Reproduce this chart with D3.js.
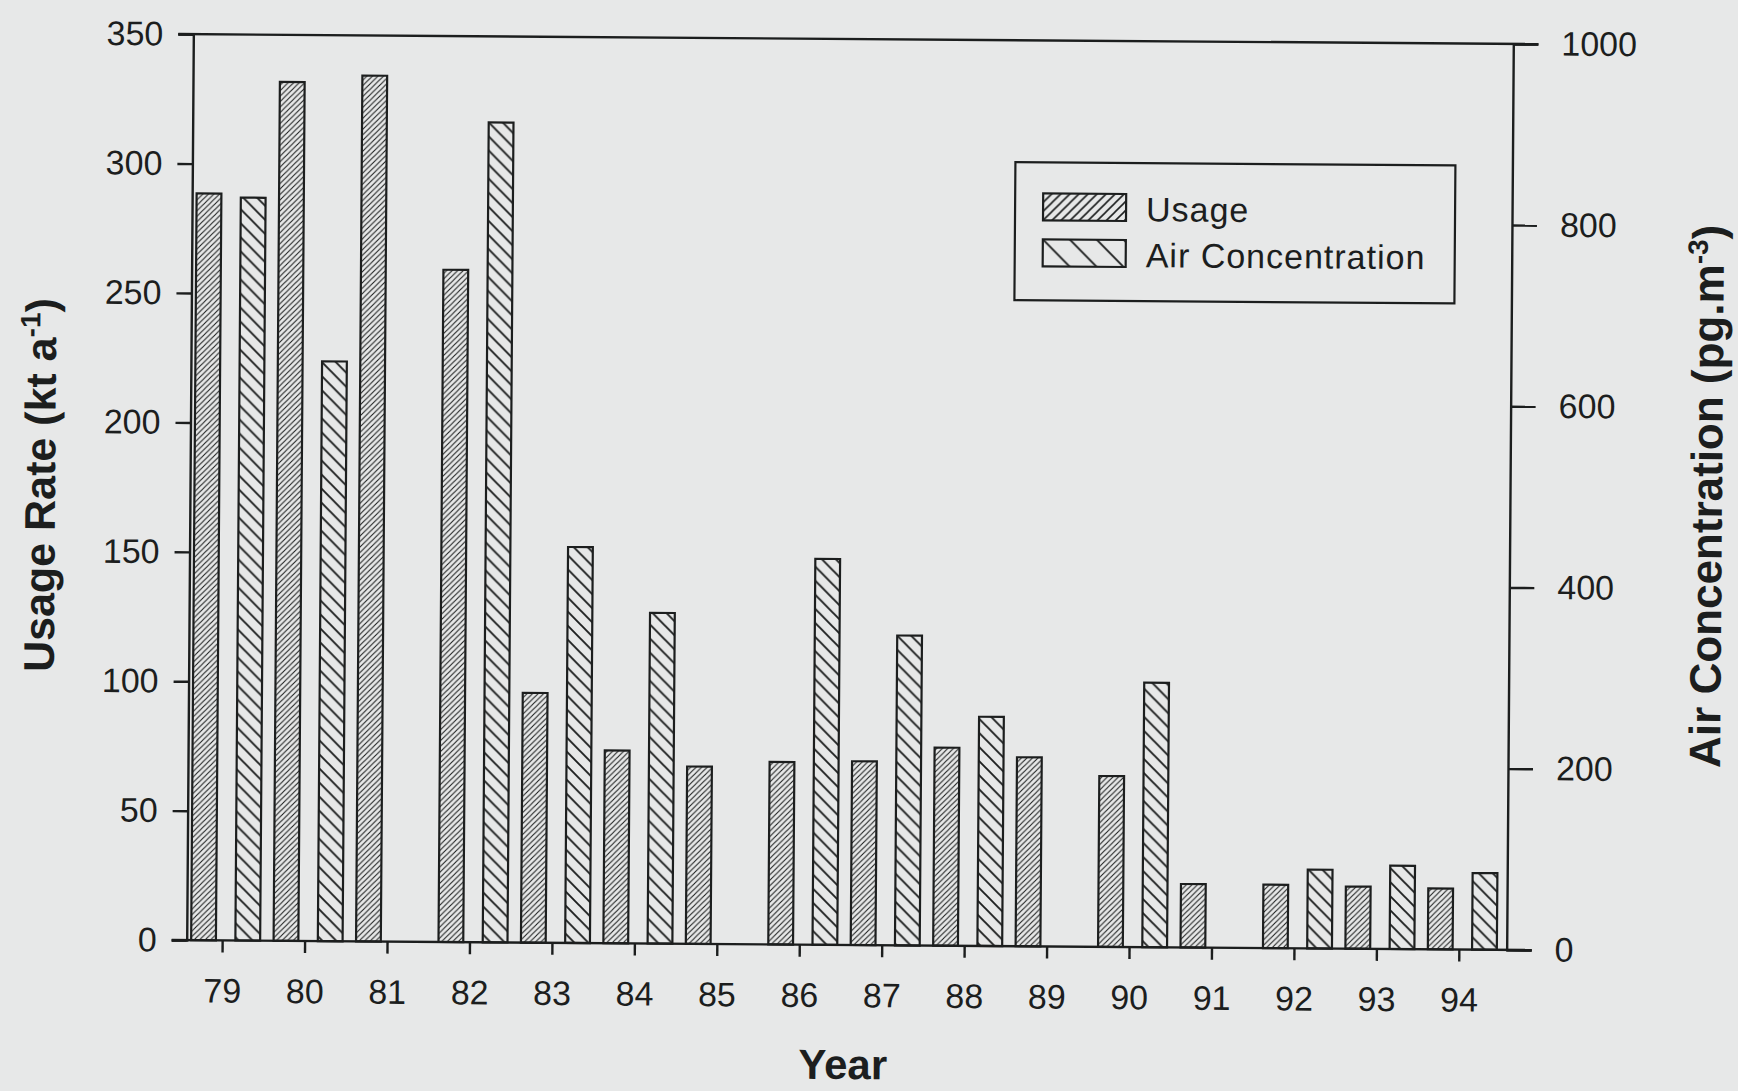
<!DOCTYPE html>
<html>
<head>
<meta charset="utf-8">
<script src="https://cdn.jsdelivr.net/npm/d3@7"></script>
<style>
  body { margin: 0; background: #e7e8e8; }
  svg { display: block; }
  .tick text { font-family: "Liberation Sans", Arial, sans-serif; font-size: 34px; fill: #1c1e1e; }
  .tick line { stroke: #1c1e1e; stroke-width: 2.4; }
</style>
</head>
<body>
<div id="chart-area"></div>
<script>
/*
*    usage rate vs air concentration, 1979-1994
*/

var years = [79, 80, 81, 82, 83, 84, 85, 86, 87, 88, 89, 90, 91, 92, 93, 94];
var usage = [288.5, 331.8, 334.5, 259.7, 96.5, 74.5, 68.5, 70.5, 71, 76.5, 73, 66, 24.5, 24.5, 24, 23.5];
var airConc = [820, 640, null, 905, 437, 365, null, 426, 342, 253, null, 292, null, 87, 92, 84.5];
var usageTicks = [0, 50, 100, 150, 200, 250, 300, 350];
var airTicks = [0, 200, 400, 600, 800, 1000];
var series = ["usage", "air"];
var legendLabels = ["Usage", "Air Concentration"];

var svgWidth = 1738, svgHeight = 1091;
var margin = {left: 190, right: 228, top: 39, bottom: 146};
var chartWidth = svgWidth - margin.left - margin.right;
var chartHeight = svgHeight - margin.top - margin.bottom;
var ink = "#1c1e1e";

var svg = d3.select("#chart-area").append("svg")
    .attr("width", svgWidth).attr("height", svgHeight);

// hatch patterns
var defs = svg.append("defs");
function hatch(id, size, dir, sw) {
    var p = defs.append("pattern").attr("id", id).attr("patternUnits", "userSpaceOnUse")
        .attr("width", size).attr("height", size);
    var s = size;
    var d = dir == "up"
        ? "M0," + s + " L" + s + ",0 M" + (-s/4) + "," + (s/4) + " L" + (s/4) + "," + (-s/4) + " M" + (s*3/4) + "," + (s*5/4) + " L" + (s*5/4) + "," + (s*3/4)
        : "M0,0 L" + s + "," + s + " M" + (-s/4) + "," + (s*3/4) + " L" + (s/4) + "," + (s*5/4) + " M" + (s*3/4) + "," + (-s/4) + " L" + (s*5/4) + "," + (s/4);
    p.append("path").attr("d", d).attr("stroke", ink).attr("stroke-width", sw).attr("fill", "none");
}
hatch("hUsage", 5.5, "up", 1.1);
hatch("hAir", 14, "down", 1.9);
hatch("hUsageLeg", 9, "up", 1.6);
hatch("hAirLeg", 27, "down", 1.9);

// the scanned figure sits slightly tilted
var graph = svg.append("g")
    .attr("transform", "rotate(0.42, 850, 492) translate(" + margin.left + "," + margin.top + ")");

var x = d3.scaleLinear().domain([78.57, 94.58]).range([0, chartWidth]);
var inner = d3.scaleBand().domain(series).range([-31, 38]).paddingInner(0.44);
var y = d3.scaleLinear().domain([0, 350]).range([chartHeight, 0]);
var y2 = d3.scaleLinear().domain([0, 1000]).range([chartHeight, 0]);

var yAxis = d3.axisLeft(y).tickValues(usageTicks).tickSize(15).tickPadding(15);
var y2Axis = d3.axisRight(y2).tickValues(airTicks).tickSize(25).tickPadding(23).tickFormat(d3.format("d"));
var xAxis = d3.axisBottom(x).tickValues(years).tickSize(12).tickPadding(26).tickFormat(d3.format("d"));

// frame
graph.append("line").attr("x1", -15).attr("x2", chartWidth + 25).attr("y1", 0).attr("y2", 0)
    .attr("stroke", ink).attr("stroke-width", 2.4);
graph.append("line").attr("x1", -15).attr("x2", chartWidth + 25).attr("y1", chartHeight).attr("y2", chartHeight)
    .attr("stroke", ink).attr("stroke-width", 2.4);

var bars = [];
years.forEach((yr, i) => {
    bars.push({year: yr, key: "usage", h: y(usage[i])});
    if (airConc[i] != null) bars.push({year: yr, key: "air", h: y2(airConc[i])});
});

graph.selectAll("rect.bar").data(bars).enter().append("rect")
    .attr("class", "bar")
    .attr("x", (d) => { return x(d.year) + inner(d.key); })
    .attr("width", inner.bandwidth())
    .attr("y", (d) => { return d.h; })
    .attr("height", (d) => { return chartHeight - d.h; })
    .attr("fill", (d) => { return d.key == "usage" ? "url(#hUsage)" : "url(#hAir)"; })
    .attr("stroke", ink).attr("stroke-width", 2.2);

var yAxisGroup = graph.append("g").call(yAxis);
var y2AxisGroup = graph.append("g").attr("transform", "translate(" + chartWidth + ",0)").call(y2Axis);
var xAxisGroup = graph.append("g").attr("transform", "translate(0," + chartHeight + ")").call(xAxis);
[yAxisGroup, y2AxisGroup, xAxisGroup].forEach((g) => {
    g.select(".domain").attr("stroke", ink).attr("stroke-width", 2.4);
    g.attr("font-family", null).attr("font-size", null);
});
xAxisGroup.select(".domain").remove();

// axis titles
var title = {"font-family": "\"Liberation Sans\", Arial, sans-serif", "font-size": "43px", "font-weight": "bold", "fill": ink};
function styleTitle(t) { for (var k in title) t.attr(k, title[k]); return t; }

var yLabel = styleTitle(graph.append("text"))
    .attr("text-anchor", "middle")
    .attr("transform", "translate(" + (55 - margin.left) + "," + (491 - margin.top) + ") rotate(-90)");
yLabel.append("tspan").text("Usage Rate (kt a");
yLabel.append("tspan").attr("dy", -16).attr("font-size", "28px").text("-1");
yLabel.append("tspan").attr("dy", 16).text(")");

var y2Label = styleTitle(graph.append("text"))
    .attr("text-anchor", "middle").attr("font-size", "44px")
    .attr("transform", "translate(" + (1722 - margin.left) + "," + (490 - margin.top) + ") rotate(-90)");
y2Label.append("tspan").text("Air Concentration (pg.m");
y2Label.append("tspan").attr("dy", -16).attr("font-size", "28px").text("-3");
y2Label.append("tspan").attr("dy", 16).text(")");

styleTitle(graph.append("text"))
    .attr("text-anchor", "middle").attr("font-size", "42px")
    .attr("x", 847 - margin.left).attr("y", 1079 - margin.top)
    .text("Year");

// legend
var legend = graph.append("g").attr("transform", "translate(" + (1013 - margin.left) + "," + (161 - margin.top) + ")");
legend.append("rect").attr("width", 440).attr("height", 138)
    .attr("fill", "none").attr("stroke", ink).attr("stroke-width", 2.2);
legendLabels.forEach((lab, i) => {
    var row = legend.append("g").attr("transform", "translate(28," + (31 + i * 46) + ")");
    row.append("rect").attr("width", 83).attr("height", 27)
        .attr("fill", i == 0 ? "url(#hUsageLeg)" : "url(#hAirLeg)")
        .attr("stroke", ink).attr("stroke-width", 2.2);
    row.append("text").attr("x", 103).attr("y", 27)
        .attr("font-family", "\"Liberation Sans\", Arial, sans-serif").attr("font-size", "34px")
        .attr("letter-spacing", "1px").attr("fill", ink)
        .text(lab);
});
</script>
</body>
</html>
